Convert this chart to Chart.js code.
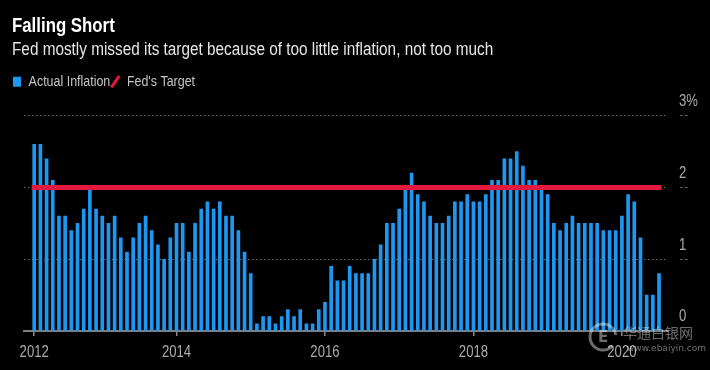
<!DOCTYPE html>
<html>
<head>
<meta charset="utf-8">
<script src="https://cdn.jsdelivr.net/npm/chart.js@4.4.1/dist/chart.umd.min.js"></script>
<style>
  html, body { margin: 0; padding: 0; background: #000; }
  #wrap { width: 710px; height: 370px; position: relative; }
</style>
</head>
<body>
<div id="wrap"><canvas id="c"></canvas></div>
<script>
// ---------- data ----------
const years = [2012, 2013, 2014, 2015, 2016, 2017, 2018, 2019, 2020];
const monthNames = ['Jan','Feb','Mar','Apr','May','Jun','Jul','Aug','Sep','Oct','Nov','Dec'];
const months = [];
years.forEach(y => monthNames.forEach(m => months.push(m + ' ' + y)));
months.length = 102; // Jan 2012 .. Jun 2020

// Actual inflation, % y/y
const inflation = [
  2.6, 2.6, 2.4, 2.1, 1.6, 1.6, 1.4, 1.5, 1.7, 2.0, 1.7, 1.6,   // 2012
  1.5, 1.6, 1.3, 1.1, 1.3, 1.5, 1.6, 1.4, 1.2, 1.0, 1.3, 1.5,   // 2013
  1.5, 1.1, 1.5, 1.7, 1.8, 1.7, 1.8, 1.6, 1.6, 1.4, 1.1, 0.8,   // 2014
  0.1, 0.2, 0.2, 0.1, 0.2, 0.3, 0.2, 0.3, 0.1, 0.1, 0.3, 0.4,   // 2015
  0.9, 0.7, 0.7, 0.9, 0.8, 0.8, 0.8, 1.0, 1.2, 1.5, 1.5, 1.7,   // 2016
  2.0, 2.2, 1.9, 1.8, 1.6, 1.5, 1.5, 1.6, 1.8, 1.8, 1.9, 1.8,   // 2017
  1.8, 1.9, 2.1, 2.1, 2.4, 2.4, 2.5, 2.3, 2.1, 2.1, 2.0, 1.9,   // 2018
  1.5, 1.4, 1.5, 1.6, 1.5, 1.5, 1.5, 1.5, 1.4, 1.4, 1.4, 1.6,   // 2019
  1.9, 1.8, 1.3, 0.5, 0.5, 0.8                                  // 2020
];
const fedTarget = 2;

const yearLabels = ['2012', '2014', '2016', '2018', '2020'];
const yTickLabels = ['0', '1', '2', '3%'];

// ---------- styles ----------
const FONT = "'Liberation Sans', Arial, sans-serif";
const BLUE = '#1d98f2';
const RED = '#e3193f';
const AXIS_TXT = '#ababab';
const NARROW = 0.82; // emulate a narrow face by compressing glyphs horizontally

Chart.defaults.font.family = FONT;

// year tick positions: year boundary (before January of that year)
const yearTickPos = yearLabels.map(y => Math.max(0, months.indexOf('Jan ' + y) - 1));

// Narrow-text plugin: compresses all chart text horizontally (and its measured width)
const narrowText = {
  id: 'narrowText',
  beforeInit(chart) {
    const ctx = chart.ctx;
    const origFill = ctx.fillText.bind(ctx);
    const origMeasure = ctx.measureText.bind(ctx);
    ctx._origFillText = origFill;
    ctx.fillText = function (text, x, y, maxW) {
      ctx.save();
      ctx.translate(x, y);
      ctx.scale(NARROW, 1);
      if (maxW !== undefined && maxW !== null) origFill(text, 0, 0, maxW / NARROW);
      else origFill(text, 0, 0);
      ctx.restore();
    };
    ctx.measureText = function (t) {
      const r = origMeasure(t);
      return {
        width: r.width * NARROW,
        actualBoundingBoxAscent: r.actualBoundingBoxAscent,
        actualBoundingBoxDescent: r.actualBoundingBoxDescent,
        actualBoundingBoxLeft: r.actualBoundingBoxLeft * NARROW,
        actualBoundingBoxRight: r.actualBoundingBoxRight * NARROW,
        fontBoundingBoxAscent: r.fontBoundingBoxAscent,
        fontBoundingBoxDescent: r.fontBoundingBoxDescent
      };
    };
  }
};

const watermark = {
  id: 'watermark',
  afterDraw(chart) {
    const ctx = chart.ctx;
    const fill = ctx._origFillText || ctx.fillText.bind(ctx);
    ctx.save();
    const col = 'rgba(255,255,255,0.42)';
    ctx.strokeStyle = col;
    ctx.fillStyle = col;
    ctx.lineWidth = 3;
    ctx.beginPath();
    ctx.arc(603, 337, 13, 0.25 * Math.PI, 1.95 * Math.PI);
    ctx.stroke();
    ctx.font = "bold 15px 'DejaVu Sans'";
    ctx.textAlign = 'center';
    ctx.textBaseline = 'middle';
    fill('E', 603, 338);
    ctx.textAlign = 'left';
    ctx.font = "14px 'Noto Sans CJK SC'";
    fill('华通白银网', 623, 333);
    ctx.font = "9px 'DejaVu Sans'";
    fill('www.ebaiyin.com', 627, 348.5);
    ctx.restore();
  }
};

new Chart(document.getElementById('c'), {
  type: 'bar',
  data: {
    datasets: [
      {
        type: 'bar',
        label: 'Actual Inflation',
        data: inflation.map((v, i) => ({ x: i, y: v })),
        backgroundColor: BLUE,
        barThickness: 3,
        xAxisID: 'x',
        yAxisID: 'y',
        order: 1
      },
      {
        type: 'line',
        label: "Fed's Target",
        data: months.map((m, i) => ({ x: i, y: fedTarget })),
        borderColor: RED,
        borderWidth: 5,
        borderCapStyle: 'square',
        pointRadius: 0,
        fill: false,
        xAxisID: 'x',
        yAxisID: 'y',
        order: 0
      }
    ]
  },
  options: {
    responsive: true,
    maintainAspectRatio: false,
    animation: false,
    events: [],
    layout: { padding: { left: 12, right: 0, top: 0, bottom: 0 } },
    plugins: {
      title: {
        display: true, text: 'Falling Short', align: 'start', color: '#ffffff',
        font: { size: 20.5, weight: 'bold', family: FONT },
        padding: { top: 14, bottom: 0 }
      },
      subtitle: {
        display: true,
        text: 'Fed mostly missed its target because of too little inflation, not too much',
        align: 'start', color: '#e6e6e6',
        font: { size: 18.7, family: FONT },
        padding: { top: 0, bottom: 12 }
      },
      legend: {
        display: true, align: 'start',
        labels: {
          usePointStyle: true, pointStyleWidth: 8, boxHeight: 10, padding: 1,
          color: '#c4c4c4', font: { size: 15.2, family: FONT },
          generateLabels: () => [
            { text: 'Actual Inflation', fillStyle: BLUE, strokeStyle: BLUE, lineWidth: 0,
              pointStyle: 'rect', fontColor: '#c4c4c4', hidden: false, datasetIndex: 0 },
            { text: "Fed's Target", fillStyle: RED, strokeStyle: RED, lineWidth: 3,
              pointStyle: 'line', rotation: -55, fontColor: '#c4c4c4', hidden: false, datasetIndex: 1 }
          ]
        }
      },
      tooltip: { enabled: false }
    },
    scales: {
      x: {
        type: 'linear', position: 'bottom',
        min: -1.65, max: 102.45, offset: false,
        afterBuildTicks(scale) { scale.ticks = yearTickPos.map(v => ({ value: v })); },
        afterFit(scale) { scale.height = 39; },
        ticks: {
          autoSkip: false, maxRotation: 0, color: AXIS_TXT, padding: 7,
          font: { size: 16, family: FONT },
          callback(value) { const k = yearTickPos.indexOf(value); return k >= 0 ? yearLabels[k] : ''; }
        },
        grid: { offset: false, drawOnChartArea: false, drawTicks: true, tickLength: 5, color: '#8a8a8a', lineWidth: 1.5 },
        border: { display: true, color: '#7e7e7e', width: 2 }
      },
      yl: {
        type: 'linear', position: 'left', display: true,
        afterFit(scale) { scale.width = 12; },
        grid: { display: false }, border: { display: false }, ticks: { display: false }
      },
      y: {
        type: 'linear', position: 'right',
        min: 0, max: 3.23,
        afterFit(scale) { scale.width = 42; },
        ticks: {
          stepSize: 1, includeBounds: false, color: AXIS_TXT, padding: -9, labelOffset: -14,
          font: { size: 16, family: FONT },
          callback(value) { return yTickLabels[value] !== undefined ? yTickLabels[value] : ''; }
        },
        grid: {
          drawTicks: true, tickLength: 20, lineWidth: 1,
          color: ctx => (ctx.tick && ctx.tick.value === 0) ? 'rgba(0,0,0,0)' : 'rgba(150,150,150,0.7)',
          tickBorderDash: [0, 12, 2.5, 2.5, 2.5, 100]
        },
        border: { display: false, dash: [1.5, 2.5] }
      }
    }
  },
  plugins: [narrowText, watermark]
});
</script>
</body>
</html>
